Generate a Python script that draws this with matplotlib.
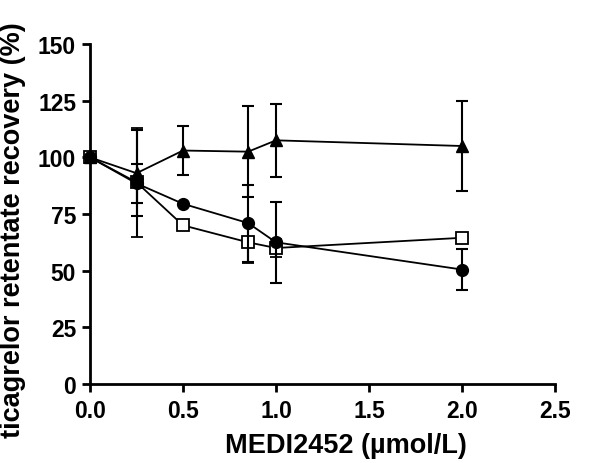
import matplotlib.pyplot as plt

# concentrations (umol/L)
x_tri = [0.0, 0.25, 0.5, 0.85, 1.0, 2.0]
tri = [100, 93, 103, 102.5, 107.5, 105]
tri_err = [0, 19, 11, 20, 16, 20]

x_circ = [0.0, 0.25, 0.5, 0.85, 1.0, 2.0]
circ = [100, 88.5, 79.5, 71, 62.5, 50.5]
circ_err = [0, 8.5, 0, 17, 18, 9]

x_sq = [0.0, 0.25, 0.5, 0.85, 1.0, 2.0]
sq = [100, 89, 70, 62.5, 60, 64.5]
sq_err = [0, 24, 0, 9, 4, 0]

plt.rcParams['font.family'] = ['Liberation Sans', 'DejaVu Sans']
plt.rcParams['font.weight'] = 'bold'

fig = plt.figure(figsize=(6.15, 4.64), dpi=100)
ax = fig.add_axes([90 / 615, 1 - 385 / 464, 465 / 615, 340 / 464])

common = dict(color='black', ecolor='black', elinewidth=1.5, capsize=4,
              capthick=1.5, linewidth=1.3, clip_on=False)
# open squares underneath, filled symbols on top
ax.errorbar(x_sq, sq, yerr=sq_err, marker='s', markersize=8.5,
            markerfacecolor='white', markeredgewidth=1.3, zorder=3, **common)
ax.errorbar(x_circ, circ, yerr=circ_err, marker='o', markersize=8.5,
            markerfacecolor='black', zorder=4, **common)
ax.errorbar(x_tri, tri, yerr=tri_err, marker='^', markersize=8.5,
            markerfacecolor='black', zorder=5, **common)

ax.set_xlim(0, 2.5)
ax.set_ylim(0, 150)
ax.set_xticks([0.0, 0.5, 1.0, 1.5, 2.0, 2.5])
ax.set_xticklabels(['0.0', '0.5', '1.0', '1.5', '2.0', '2.5'])
ax.set_yticks([0, 25, 50, 75, 100, 125, 150])

for side in ['top', 'right']:
    ax.spines[side].set_visible(False)
for side in ['left', 'bottom']:
    ax.spines[side].set_linewidth(2)

ax.tick_params(axis='both', width=2, length=6, labelsize=16.5, direction='out')
ax.tick_params(axis='x', pad=5)
ax.tick_params(axis='y', pad=4)
for lab in ax.get_xticklabels() + ax.get_yticklabels():
    lab.set_fontweight('bold')

ax.set_xlabel('MEDI2452 (µmol/L)', fontsize=19.5, fontweight='bold')
ax.set_ylabel('ticagrelor retentate recovery (%)', fontsize=19.5, fontweight='bold')
ax.xaxis.set_label_coords(0.55, -0.14)
ax.yaxis.set_label_coords(-0.138, 0.456)

fig.savefig('out.png', dpi=100)
